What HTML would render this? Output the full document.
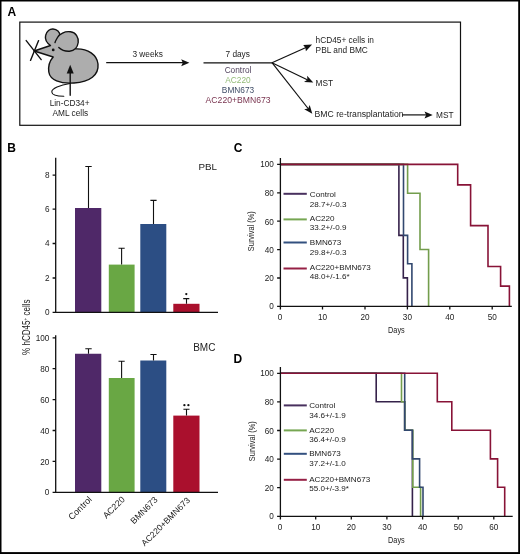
<!DOCTYPE html>
<html><head><meta charset="utf-8">
<style>
html,body{margin:0;padding:0;background:#fff;}
body{width:520px;height:554px;overflow:hidden;}
svg{display:block;will-change:transform;}
text{font-family:"Liberation Sans",sans-serif;}
.t{font-size:8.3px;fill:#1c1c1c;}
.lab{font-size:12px;font-weight:bold;fill:#000;}
.tk{font-size:8.2px;fill:#222;}
.lg{font-size:8.1px;fill:#222;}
.ax{stroke:#111;stroke-width:1.3;fill:none;}
.eb{stroke:#111;stroke-width:1.1;fill:none;}
.cv{fill:none;stroke-width:1.6;}
</style></head>
<body>
<svg width="520" height="554" viewBox="0 0 520 554">
<rect x="0" y="0" width="520" height="554" fill="#fff"/>
<!-- outer border -->
<rect x="0" y="0" width="1.5" height="554" fill="#000"/>
<rect x="0" y="0" width="520" height="1.5" fill="#000"/>
<rect x="518.2" y="0" width="1.8" height="554" fill="#000"/>
<rect x="0" y="552.1" width="520" height="1.9" fill="#000"/>

<!-- ================= PANEL A ================= -->
<text class="lab" x="7.5" y="15.7">A</text>
<rect x="19.8" y="22.1" width="440.7" height="103.2" fill="none" stroke="#111" stroke-width="1.2"/>

<!-- mouse -->
<g stroke="#111" stroke-width="1.4" stroke-linejoin="round" stroke-linecap="round">
  <line x1="26.2" y1="40.6" x2="41.2" y2="59.6"/>
  <line x1="38.6" y1="40.6" x2="30.5" y2="60.4"/>
  <path d="M34.2,51 L50.5,45.5 C47,43 44.8,39 45.6,35.5 C46.5,31 50,28.8 53,29 C57,29.3 60,32 59.8,35.5 L66,46 L77,49 C88,48.5 97,55 98,64 C99,75 90,82 74,83 C60,84 50,80 48.8,72 C48,66 50.5,60 53.2,57 Z" fill="#adadad" stroke="none"/>
  <path d="M34.2,51 L50.5,45.5 C47,43 44.8,39 45.6,35.5 C46.5,31 50,28.8 53,29 C57,29.3 60,32 59.8,35.5 C59.6,36.5 59.3,37.2 58.8,38" fill="none"/>
  <path d="M76,48.9 C88,48.5 97,55 98,64 C99,75 90,82 74,83 C60,84 50,80 48.8,72 C48,66 50.5,60 53.2,57 L34.2,51" fill="none"/>
  <path d="M58.8,47.5 C62,50.5 66,51.4 69.5,51.2 C74,50.8 77.5,47.5 78.2,42.5 C78.8,37.5 76,32.5 70.5,31.8 C64.5,31 59.5,34 57.5,37.5 C56.3,39.5 55.5,41 55,42.5" fill="#adadad"/>
  <path d="M70,83.5 C60,85 51.5,88.5 51.8,92 C52,95 57,96.3 63.8,96.3" fill="none" stroke-width="1.1"/>
  <line x1="70.2" y1="95.3" x2="70.2" y2="71"/>
</g>
<polygon points="70.2,64.7 66.7,73.4 73.7,73.4" fill="#111"/>
<circle cx="53.2" cy="49.9" r="1.4" fill="#111"/>
<text class="t" x="69.6" y="105.6" text-anchor="middle">Lin-CD34+</text>
<text class="t" x="70.3" y="115.6" text-anchor="middle">AML cells</text>

<!-- arrows -->
<g stroke="#111" stroke-width="1.2" fill="none">
  <line x1="106.2" y1="62.7" x2="183" y2="62.7"/>
  <line x1="203.5" y1="62.8" x2="272" y2="62.8"/>
  <line x1="272" y1="62.7" x2="306" y2="47.5"/>
  <line x1="272" y1="62.7" x2="307.8" y2="80"/>
  <line x1="272" y1="62.7" x2="308.5" y2="109"/>
  <line x1="402" y1="114.9" x2="427" y2="114.9"/>
</g>
<g fill="#111">
  <polygon points="189.4,62.7 181.2,59.2 182.8,62.7 181.2,66.2"/>
  <polygon points="432.7,114.9 424.5,111.4 426.1,114.9 424.5,118.4"/>
  <polygon points="312.1,44.6 303.2,44.9 305.4,47.8 305.9,51.3" />
  <polygon points="313.3,82.6 304.0,82.0 307.4,79.7 307.1,75.7"/>
  <polygon points="312.3,113.8 304.2,109.2 308.2,108.6 309.7,104.9"/>
</g>
<text class="t" x="147.6" y="57.3" text-anchor="middle">3 weeks</text>
<text class="t" x="237.7" y="57.2" text-anchor="middle">7 days</text>
<text class="t" x="238" y="72.8" text-anchor="middle" style="fill:#52445f">Control</text>
<text class="t" x="238" y="83.1" text-anchor="middle" style="fill:#93bb78">AC220</text>
<text class="t" x="238" y="93.1" text-anchor="middle" style="fill:#3e4c66">BMN673</text>
<text class="t" x="238.1" y="103.1" text-anchor="middle" textLength="65" lengthAdjust="spacingAndGlyphs" style="fill:#7a3550">AC220+BMN673</text>
<text class="t" x="315.6" y="43">hCD45+ cells in</text>
<text class="t" x="315.6" y="53">PBL and BMC</text>
<text class="t" x="315.6" y="85.7">MST</text>
<text class="t" x="314.6" y="117.2" textLength="89" lengthAdjust="spacingAndGlyphs">BMC re-transplantation</text>
<text class="t" x="436" y="117.7">MST</text>

<!-- ================= PANEL B ================= -->
<text class="lab" x="7.3" y="151.8">B</text>
<!-- PBL chart -->
<text x="198.4" y="170.2" style="font-size:9.8px;fill:#222">PBL</text>
<g class="tk" text-anchor="end">
  <text x="49.6" y="315.3">0</text>
  <text x="49.6" y="281">2</text>
  <text x="49.6" y="246.4">4</text>
  <text x="49.6" y="212.1">6</text>
  <text x="49.6" y="178.2">8</text>
</g>
<rect x="75" y="208" width="26.3" height="104.3" fill="#4f2868"/>
<rect x="108.8" y="264.6" width="25.8" height="47.7" fill="#69a744"/>
<rect x="140.3" y="224" width="26" height="88.3" fill="#2c4e84"/>
<rect x="173.3" y="303.8" width="26.2" height="8.5" fill="#aa102d"/>
<g class="eb">
  <path d="M88.5,208 V166.5 M85.3,166.5 H91.7"/>
  <path d="M121.6,264.6 V248.3 M118.5,248.3 H124.7"/>
  <path d="M153.5,224 V200.4 M150.4,200.4 H156.6"/>
  <path d="M186.5,303.8 V298.6 M183.2,298.6 H189.3"/>
</g>
<circle cx="186.3" cy="294.1" r="1.15" fill="#111"/>
<g class="ax">
  <path d="M55.7,157.8 V312.3 H218"/>
  <path d="M52.6,312.3 H55.7 M52.6,278 H55.7 M52.6,243.5 H55.7 M52.6,209.1 H55.7 M52.6,175.2 H55.7"/>
</g>

<!-- BMC chart -->
<text x="193.2" y="350.6" style="font-size:10px;fill:#222">BMC</text>
<g class="tk" text-anchor="end">
  <text x="49.4" y="495.3">0</text>
  <text x="49.4" y="464.5">20</text>
  <text x="49.4" y="433.6">40</text>
  <text x="49.4" y="402.6">60</text>
  <text x="49.4" y="371.8">80</text>
  <text x="49.4" y="340.8">100</text>
</g>
<rect x="75" y="353.75" width="26.3" height="138.55" fill="#4f2868"/>
<rect x="108.8" y="378" width="25.8" height="114.3" fill="#69a744"/>
<rect x="140.3" y="360.5" width="26" height="131.8" fill="#2c4e84"/>
<rect x="173.3" y="415.6" width="26.2" height="76.7" fill="#aa102d"/>
<g class="eb">
  <path d="M88.5,353.75 V348.8 M85.3,348.8 H91.7"/>
  <path d="M121.6,378 V361.3 M118.5,361.3 H124.7"/>
  <path d="M153.5,360.5 V354.5 M150.4,354.5 H156.6"/>
  <path d="M186.5,415.6 V409.2 M183.4,409.2 H189.5"/>
</g>
<circle cx="184.4" cy="405.2" r="1.15" fill="#111"/><circle cx="188.4" cy="405.2" r="1.15" fill="#111"/>
<g class="ax">
  <path d="M55.7,335.2 V492.3 H218"/>
  <path d="M52.6,492.3 H55.7 M52.6,461.4 H55.7 M52.6,430.5 H55.7 M52.6,399.6 H55.7 M52.6,368.7 H55.7 M52.6,337.8 H55.7"/>
</g>
<text transform="translate(29.8,327.2) rotate(-90)" text-anchor="middle" textLength="55.5" lengthAdjust="spacingAndGlyphs" style="font-size:10px;fill:#222">% hCD45<tspan dy="-3" style="font-size:6px">+</tspan><tspan dy="3"> cells</tspan></text>

<g style="fill:#1a1a1a" text-anchor="end">
  <text transform="translate(92.5,500) rotate(-45)" style="font-size:9px">Control</text>
  <text transform="translate(125.5,500) rotate(-45)" style="font-size:8.8px">AC220</text>
  <text transform="translate(158.3,500.3) rotate(-45)" style="font-size:8.8px">BMN673</text>
  <text transform="translate(190.6,500.8) rotate(-45)" style="font-size:8.6px">AC220+BMN673</text>
</g>

<!-- ================= PANEL C ================= -->
<text class="lab" x="233.8" y="151.9">C</text>
<g class="tk" text-anchor="end">
  <text x="273.8" y="167.4">100</text>
  <text x="273.8" y="196.1">80</text>
  <text x="273.8" y="224.5">60</text>
  <text x="273.8" y="252.9">40</text>
  <text x="273.8" y="281.3">20</text>
  <text x="273.8" y="309.3">0</text>
</g>
<g class="tk" text-anchor="middle">
  <text x="280" y="320">0</text>
  <text x="322.5" y="320">10</text>
  <text x="365" y="320">20</text>
  <text x="407.4" y="320">30</text>
  <text x="449.8" y="320">40</text>
  <text x="492.2" y="320">50</text>
</g>
<text x="388.1" y="333.3" textLength="16.6" lengthAdjust="spacingAndGlyphs" style="font-size:9.4px;fill:#222">Days</text>
<text transform="translate(253.9,231.2) rotate(-90)" text-anchor="middle" textLength="40" lengthAdjust="spacingAndGlyphs" style="font-size:9px;fill:#222">Survival (%)</text>
<!-- curves C -->
<path class="cv" stroke="#35224a" d="M280.4,164.4 H398.9 V235.4 H403.3 V277.9 H407.4 V306.3"/>
<path class="cv" stroke="#32486f" d="M280.4,164.4 H403.5 V235.4 H407.6 V263.7 H411.9 V306.3"/>
<path class="cv" stroke="#739d4c" d="M280.4,164.4 H407.6 V193.2 H420 V249.5 H428.6 V306.3"/>
<path class="cv" stroke="#881337" d="M280.4,164.4 H457.7 V184.9 H470.6 V225.6 H488 V266.5 H500.6 V286.1 H509.4 V306.3"/>
<g class="ax">
  <path d="M280.4,158 V306.3 H511.8"/>
  <path d="M277.1,164.4 H280.4 M277.1,192.8 H280.4 M277.1,221.2 H280.4 M277.1,249.6 H280.4 M277.1,278 H280.4 M277.1,306.3 H280.4"/>
  <path d="M280.4,306.3 V309.4 M322.5,306.3 V309.4 M365,306.3 V309.4 M407.4,306.3 V309.4 M449.8,306.3 V309.4 M492.2,306.3 V309.4"/>
</g>
<!-- legend C -->
<g stroke-width="2">
  <line x1="283.5" y1="193.8" x2="306.8" y2="193.8" stroke="#48305e"/>
  <line x1="283.5" y1="219.4" x2="306.8" y2="219.4" stroke="#76a652"/>
  <line x1="283.5" y1="242.5" x2="306.8" y2="242.5" stroke="#33507f"/>
  <line x1="283.5" y1="268.5" x2="306.8" y2="268.5" stroke="#962045"/>
</g>
<g class="lg">
  <text x="309.8" y="196.9">Control</text><text x="309.8" y="206.5">28.7+/-0.3</text>
  <text x="309.8" y="221.3">AC220</text><text x="309.8" y="230.4">33.2+/-0.9</text>
  <text x="309.8" y="245.4">BMN673</text><text x="309.8" y="254.6">29.8+/-0.3</text>
  <text x="309.8" y="269.8">AC220+BMN673</text><text x="309.8" y="278.5">48.0+/-1.6*</text>
</g>

<!-- ================= PANEL D ================= -->
<text class="lab" x="233.6" y="362.5">D</text>
<g class="tk" text-anchor="end">
  <text x="273.8" y="376.3">100</text>
  <text x="273.8" y="404.9">80</text>
  <text x="273.8" y="433.5">60</text>
  <text x="273.8" y="462.1">40</text>
  <text x="273.8" y="490.7">20</text>
  <text x="273.8" y="519.3">0</text>
</g>
<g class="tk" text-anchor="middle">
  <text x="280" y="529.6">0</text>
  <text x="315.7" y="529.6">10</text>
  <text x="351.3" y="529.6">20</text>
  <text x="386.9" y="529.6">30</text>
  <text x="422.6" y="529.6">40</text>
  <text x="458.2" y="529.6">50</text>
  <text x="493.8" y="529.6">60</text>
</g>
<text x="388.1" y="542.6" textLength="16.6" lengthAdjust="spacingAndGlyphs" style="font-size:9.4px;fill:#222">Days</text>
<text transform="translate(254.5,441.2) rotate(-90)" text-anchor="middle" textLength="40" lengthAdjust="spacingAndGlyphs" style="font-size:9px;fill:#222">Survival (%)</text>
<!-- curves D -->
<path class="cv" stroke="#35224a" d="M280.4,373.3 H376.2 V401.7 H404.7 V430.3 H412.4 V516.3"/>
<path class="cv" stroke="#739d4c" d="M280.4,373.3 H401.5 V401.7 H404.7 V430.3 H412.8 V487.3 H420.6 V516.3"/>
<path class="cv" stroke="#32486f" d="M280.4,373.3 H404.7 V430.3 H412.4 V458.9 H419.6 V487.3 H423 V516.3"/>
<path class="cv" stroke="#881337" d="M280.4,373.3 H437.3 V401.7 H451.8 V430.3 H490.4 V458.9 H497.6 V487.3 H504.7 V516.3"/>
<g class="ax">
  <path d="M280.4,366.9 V516.3 H512.7"/>
  <path d="M277.1,373.3 H280.4 M277.1,401.9 H280.4 M277.1,430.5 H280.4 M277.1,459.1 H280.4 M277.1,487.7 H280.4 M277.1,516.3 H280.4"/>
  <path d="M280.4,516.3 V519.4 M315.7,516.3 V519.4 M351.3,516.3 V519.4 M386.9,516.3 V519.4 M422.6,516.3 V519.4 M458.2,516.3 V519.4 M493.8,516.3 V519.4"/>
</g>
<!-- legend D -->
<g stroke-width="2">
  <line x1="283.8" y1="405.4" x2="306.8" y2="405.4" stroke="#48305e"/>
  <line x1="283.8" y1="430.4" x2="306.8" y2="430.4" stroke="#76a652"/>
  <line x1="283.8" y1="453.8" x2="306.8" y2="453.8" stroke="#33507f"/>
  <line x1="283.8" y1="479.8" x2="306.8" y2="479.8" stroke="#962045"/>
</g>
<g class="lg">
  <text x="309.2" y="408.3">Control</text><text x="309.2" y="417.9">34.6+/-1.9</text>
  <text x="309.2" y="432.7">AC220</text><text x="309.2" y="442.3">36.4+/-0.9</text>
  <text x="309.2" y="456.3">BMN673</text><text x="309.2" y="466">37.2+/-1.0</text>
  <text x="309.2" y="481.9">AC220+BMN673</text><text x="309.2" y="491">55.0+/-3.9*</text>
</g>
</svg>
</body></html>
